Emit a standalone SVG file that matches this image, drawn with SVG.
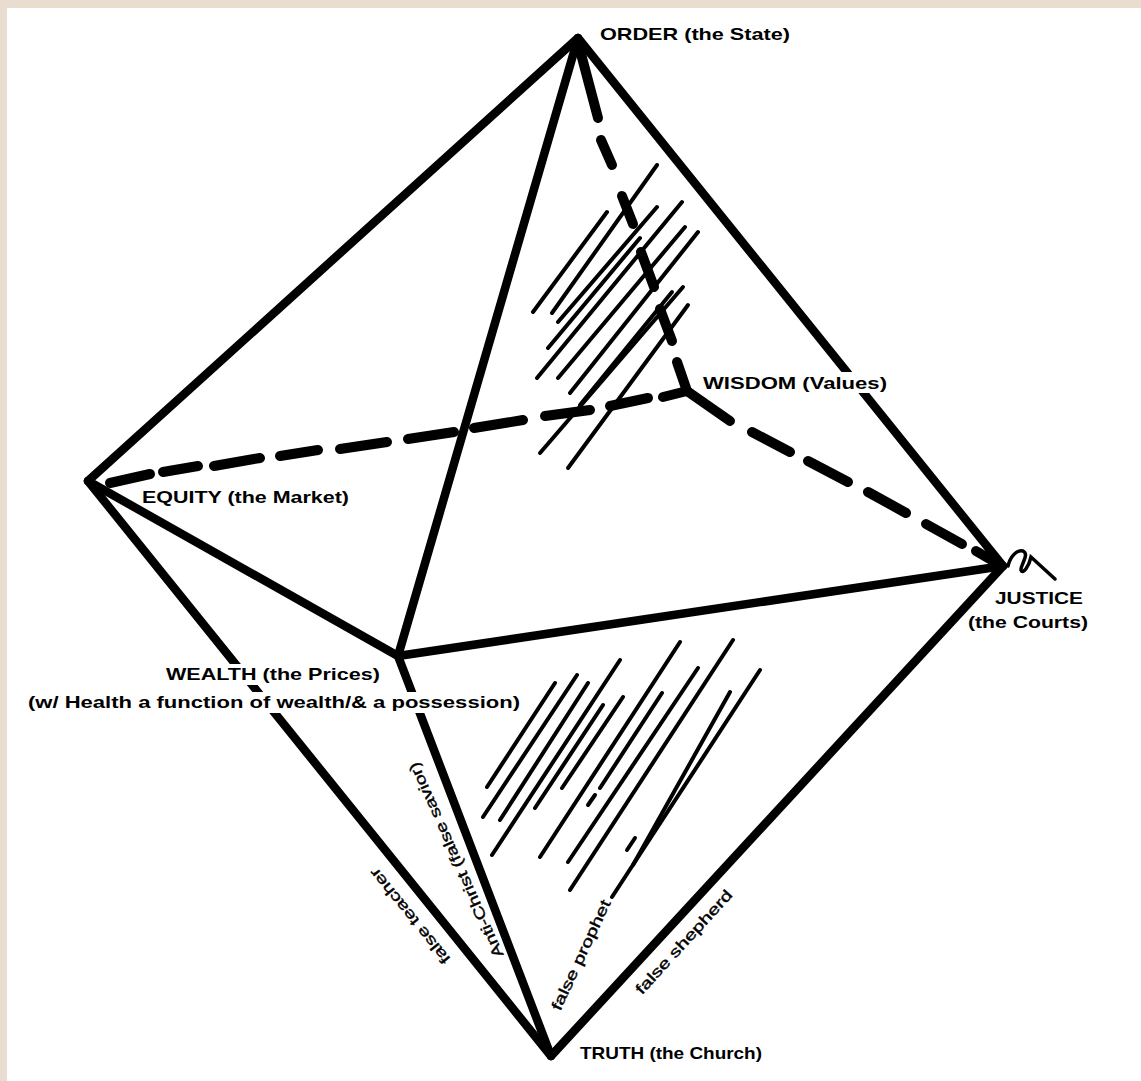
<svg xmlns="http://www.w3.org/2000/svg" width="1141" height="1081" viewBox="0 0 1141 1081">
<style>
.edge{stroke:#000;stroke-width:8.5;stroke-linecap:round;fill:none}
.dash{stroke:#000;stroke-width:10;stroke-linecap:round;fill:none}
.hatch{stroke:#000;stroke-width:4;stroke-linecap:round;fill:none}
.lbl{font-family:"Liberation Sans",Arial,sans-serif;font-weight:bold;font-size:17px;fill:#000}
.bg{fill:#ffffff}
.side{font-family:"Liberation Sans",Arial,sans-serif;font-size:15px;fill:#000;stroke:#000;stroke-width:0.4;text-anchor:middle}
</style>
<rect x="0" y="0" width="1141" height="1081" fill="#e8ddcf"/>
<rect x="7" y="8" width="1134" height="1073" fill="#ffffff"/>
<g id="connectors">
<line class="edge" x1="578" y1="38" x2="88" y2="481"/>
<line class="edge" x1="578" y1="38" x2="1003" y2="566"/>
<line class="edge" x1="578" y1="38" x2="398" y2="656"/>
<line class="edge" x1="88" y1="481" x2="398" y2="656"/>
<line class="edge" x1="398" y1="656" x2="1003" y2="566"/>
<line class="edge" x1="88" y1="481" x2="551" y2="1056"/>
<line class="edge" x1="398" y1="656" x2="551" y2="1056"/>
<line class="edge" x1="1003" y1="566" x2="551" y2="1056"/>
<g id="dashed-order-wisdom">
<line class="dash" x1="580" y1="50" x2="598" y2="118"/>
<line class="dash" x1="601" y1="140" x2="612" y2="165"/>
<line class="dash" x1="622" y1="196" x2="633" y2="224"/>
<line class="dash" x1="641" y1="252" x2="654" y2="287"/>
<line class="dash" x1="660" y1="309" x2="672" y2="341"/>
<line class="dash" x1="677" y1="362" x2="687" y2="391"/>
</g>
<g id="dashed-equity-wisdom">
<line class="dash" x1="110" y1="483" x2="150" y2="474"/>
<line class="dash" x1="163" y1="472" x2="198" y2="466"/>
<line class="dash" x1="214" y1="466" x2="260" y2="458"/>
<line class="dash" x1="280" y1="456" x2="318" y2="450"/>
<line class="dash" x1="340" y1="449" x2="387" y2="442"/>
<line class="dash" x1="408" y1="439" x2="454" y2="432"/>
<line class="dash" x1="474" y1="428" x2="523" y2="420"/>
<line class="dash" x1="545" y1="416" x2="590" y2="410"/>
<line class="dash" x1="610" y1="406" x2="648" y2="398"/>
<line class="dash" x1="663" y1="397" x2="687" y2="391"/>
</g>
<g id="dashed-wisdom-justice">
<line class="dash" x1="687" y1="391" x2="730" y2="421"/>
<line class="dash" x1="752" y1="432" x2="790" y2="452"/>
<line class="dash" x1="808" y1="461" x2="848" y2="482"/>
<line class="dash" x1="868" y1="492" x2="906" y2="513"/>
<line class="dash" x1="926" y1="524" x2="962" y2="544"/>
<line class="dash" x1="976" y1="551" x2="1000" y2="565"/>
</g>
<path d="M1008,566 C1010,557 1017,549 1023,551 C1030,554 1020,566 1021,570 C1023,575 1029,566 1031,557 L1055,579" fill="none" stroke="#000" stroke-width="3.5" stroke-linecap="round"/>
</g>
<g id="hatch-upper">
<line class="hatch" x1="533" y1="312" x2="607" y2="212"/>
<line class="hatch" x1="552" y1="313" x2="657" y2="165"/>
<line class="hatch" x1="558" y1="322" x2="657" y2="207"/>
<line class="hatch" x1="537" y1="378" x2="682" y2="202"/>
<line class="hatch" x1="548" y1="348" x2="640" y2="238"/>
<line class="hatch" x1="558" y1="378" x2="685" y2="227"/>
<line class="hatch" x1="570" y1="393" x2="698" y2="232"/>
<line class="hatch" x1="580" y1="405" x2="672" y2="292"/>
<line class="hatch" x1="540" y1="453" x2="683" y2="287"/>
<line class="hatch" x1="568" y1="468" x2="688" y2="305"/>
</g>
<g id="hatch-lower">
<line class="hatch" x1="487" y1="787" x2="555" y2="683"/>
<line class="hatch" x1="483" y1="817" x2="577" y2="675"/>
<line class="hatch" x1="500" y1="820" x2="588" y2="683"/>
<line class="hatch" x1="492" y1="855" x2="620" y2="660"/>
<line class="hatch" x1="535" y1="808" x2="603" y2="705"/>
<line class="hatch" x1="562" y1="788" x2="623" y2="697"/>
<line class="hatch" x1="540" y1="857" x2="680" y2="642"/>
<line class="hatch" x1="588" y1="805" x2="595" y2="795"/>
<line class="hatch" x1="600" y1="788" x2="662" y2="693"/>
<line class="hatch" x1="568" y1="862" x2="698" y2="668"/>
<line class="hatch" x1="570" y1="890" x2="733" y2="640"/>
<line class="hatch" x1="627" y1="850" x2="635" y2="838"/>
<line class="hatch" x1="633" y1="865" x2="730" y2="692"/>
<line class="hatch" x1="612" y1="897" x2="760" y2="670"/>
</g>
<g id="node-order"><text class="lbl" x="600" y="40" textLength="190" lengthAdjust="spacingAndGlyphs">ORDER (the State)</text></g>
<g id="node-wisdom"><rect class="bg" x="701" y="372" width="189" height="21"/><text class="lbl" x="703" y="389" textLength="184" lengthAdjust="spacingAndGlyphs">WISDOM (Values)</text></g>
<g id="node-equity"><text class="lbl" x="142" y="503" textLength="207" lengthAdjust="spacingAndGlyphs">EQUITY (the Market)</text></g>
<g id="node-justice">
<text class="lbl" x="995" y="604" textLength="88" lengthAdjust="spacingAndGlyphs">JUSTICE</text>
<text class="lbl" x="968" y="628" textLength="120" lengthAdjust="spacingAndGlyphs">(the Courts)</text>
</g>
<g id="node-wealth">
<rect class="bg" x="163" y="664" width="221" height="21"/>
<rect class="bg" x="25" y="692" width="499" height="21"/>
<text class="lbl" x="166" y="680" textLength="214" lengthAdjust="spacingAndGlyphs">WEALTH (the Prices)</text>
<text class="lbl" x="28" y="708" textLength="492" lengthAdjust="spacingAndGlyphs">(w/ Health a function of wealth/&amp; a possession)</text>
</g>
<g id="node-truth"><text class="lbl" x="580" y="1059" textLength="182" lengthAdjust="spacingAndGlyphs">TRUTH (the Church)</text></g>
<g id="edge-labels">
<text class="side" transform="translate(410,916) rotate(231)" x="0" y="5" textLength="118" lengthAdjust="spacingAndGlyphs">false teacher</text>
<text class="side" transform="translate(456,860) rotate(246)" x="0" y="5" textLength="212" lengthAdjust="spacingAndGlyphs">Anti-Christ (false savior)</text>
<text class="side" transform="translate(581,955) rotate(-65)" x="0" y="5" textLength="120" lengthAdjust="spacingAndGlyphs">false prophet</text>
<text class="side" transform="translate(684,942) rotate(-47.5)" x="0" y="5" textLength="135" lengthAdjust="spacingAndGlyphs">false shepherd</text>
</g>
</svg>
